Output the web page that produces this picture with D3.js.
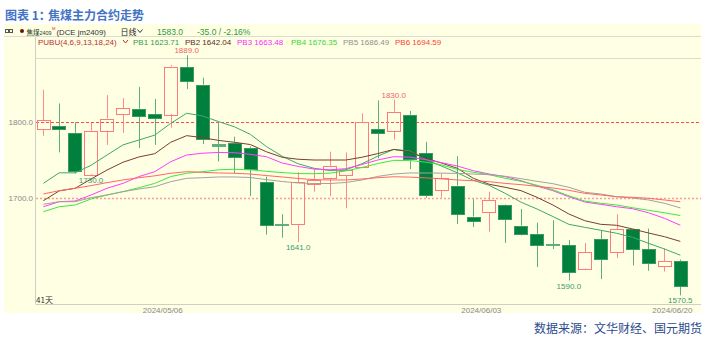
<!DOCTYPE html>
<html lang="zh">
<head>
<meta charset="UTF-8">
<script src="https://d3js.org/d3.v7.min.js"></script>
<title>焦煤主力合约走势</title>
<style>
  body { margin: 0; background: #fff; }
  text { font-family: "Liberation Sans", Arial, sans-serif; }
  .cjk { font-family: "Noto Sans CJK SC", sans-serif; }
</style>
</head>
<body>
<div id="chart"></div>
<script>
// daily bars, 41 trading days
var dates = ["2024-04-19", "2024-04-22", "2024-04-23", "2024-04-24", "2024-04-25", "2024-04-26", "2024-04-29", "2024-04-30",
  "2024-05-06", "2024-05-07", "2024-05-08", "2024-05-09", "2024-05-10", "2024-05-13", "2024-05-14", "2024-05-15",
  "2024-05-16", "2024-05-17", "2024-05-20", "2024-05-21", "2024-05-22", "2024-05-23", "2024-05-24", "2024-05-27",
  "2024-05-28", "2024-05-29", "2024-05-30", "2024-05-31", "2024-06-03", "2024-06-04", "2024-06-05", "2024-06-06",
  "2024-06-07", "2024-06-11", "2024-06-12", "2024-06-13", "2024-06-14", "2024-06-17", "2024-06-18", "2024-06-19",
  "2024-06-20"];
var opens = [1791, 1795, 1786, 1731, 1789, 1811, 1818, 1811, 1811, 1873, 1850, 1771, 1773, 1766, 1721, 1665, 1665, 1719, 1726, 1730,
  1740, 1791, 1789, 1810, 1759, 1710, 1716, 1675, 1681, 1690, 1663, 1652, 1638, 1637, 1606, 1645, 1628, 1658, 1632, 1609, 1616];
var highs = [1843, 1825, 1800, 1799, 1836, 1832, 1847, 1831, 1876, 1889, 1859, 1799, 1781, 1768, 1728, 1678, 1734, 1739, 1761, 1760,
  1812, 1829, 1830, 1815, 1774, 1732, 1755, 1698, 1708, 1691, 1685, 1667, 1670, 1644, 1640, 1657, 1678, 1659, 1659, 1633, 1618];
var lows = [1782, 1760, 1732, 1730, 1770, 1786, 1766, 1770, 1793, 1844, 1771, 1748, 1732, 1702, 1651, 1647, 1641, 1708, 1702, 1686,
  1739, 1752, 1777, 1738, 1700, 1700, 1665, 1661, 1655, 1640, 1650, 1608, 1632, 1590, 1604, 1592, 1620, 1610, 1603, 1602, 1570.5];
var closes = [1803, 1791, 1735, 1789, 1805, 1819, 1809, 1806, 1874, 1854, 1779, 1769, 1754, 1738, 1664, 1664, 1721, 1724, 1742, 1737,
  1800, 1786, 1814, 1751, 1703, 1726, 1679, 1670, 1697, 1671, 1652, 1637, 1637, 1601, 1628, 1619, 1658, 1631, 1614, 1616, 1583];

// PUBU(4,6,9,13,18,24) lines
var pb1 = [1719, 1733, 1733, 1743, 1756.6, 1770, 1776.5, 1783, 1798.6, 1812, 1808.4, 1801, 1794, 1784, 1768, 1755, 1745, 1739, 1736, 1737,
  1745, 1755, 1764, 1762, 1751, 1742, 1733, 1723, 1716.4, 1705.8, 1694, 1685, 1675, 1664.7, 1660.7, 1656.8, 1652.8, 1647.5, 1639.5, 1632, 1623.71];
var pb2 = [1696, 1709, 1712.5, 1724.8, 1736.7, 1747, 1754, 1758.4, 1773.5, 1782.3, 1779.6, 1776, 1773.5, 1770.5, 1761, 1753.6, 1751, 1750, 1750, 1750,
  1753.6, 1758.5, 1764, 1761, 1752.5, 1746, 1739, 1725.7, 1717.8, 1713.8, 1709.3, 1700.5, 1690.3, 1678.4, 1669.5, 1664.7, 1663.4, 1658.5, 1653.2, 1648.3, 1642.04];
var pb3 = [1688, 1694.7, 1695.6, 1703.6, 1712.5, 1719, 1728, 1734.5, 1747.7, 1756.6, 1759, 1760, 1759.7, 1757.5, 1754.4, 1746, 1741.5, 1738, 1737, 1738.5,
  1744, 1750, 1754.4, 1753.8, 1750.5, 1746.5, 1742, 1735.8, 1731.4, 1727.9, 1722.5, 1715.5, 1709.3, 1701.3, 1694.3, 1691.2, 1688, 1685.4, 1680, 1672.7, 1663.48];
var pb4 = [1681.4, 1688, 1690.3, 1698.3, 1703.6, 1708, 1713.3, 1719, 1728, 1732.4, 1734.5, 1737, 1737.7, 1737, 1735, 1733.3, 1732, 1731.8, 1732.6, 1735.5,
  1740, 1745.3, 1749.5, 1749.3, 1747.2, 1743.5, 1737.5, 1733.7, 1730.5, 1725.7, 1721.7, 1716.5, 1710.5, 1702.5, 1695.5, 1692.6, 1690.3, 1686.7, 1683.3, 1680, 1676.35];
var pb5 = [1691.3, 1694.7, 1694.7, 1700, 1703.6, 1708, 1711.5, 1714.6, 1721.2, 1725.7, 1726.5, 1727.5, 1727.5, 1726.8, 1724, 1721.5, 1719.5, 1718.8, 1718.8, 1720.2,
  1723.5, 1728.2, 1731.4, 1732.8, 1732.8, 1732.6, 1732.2, 1731.4, 1730.5, 1728.4, 1725.2, 1721.7, 1718.6, 1713.8, 1707.2, 1704.9, 1701.3, 1699.6, 1697, 1692.6, 1686.49];
var pb6 = [1705, 1709.3, 1712.5, 1716, 1720, 1723.5, 1726.5, 1729, 1732.4, 1734.5, 1733.7, 1732.8, 1732.4, 1731.4, 1729.4, 1727.5, 1725.5, 1724, 1723.5, 1723.5,
  1724.8, 1726.5, 1727.8, 1727.3, 1726.3, 1725, 1723.5, 1722.5, 1721.2, 1719, 1717.3, 1715.1, 1712.9, 1709.8, 1705.8, 1703.6, 1701.3, 1700.5, 1699.2, 1697, 1694.59];

var yTicks = [1700, 1800];
var dateTicks = ["2024-05-06", "2024-06-03", "2024-06-20"];
var highMarks = [9, 22];          // bars whose high is labelled
var lowMarks = [3, 16, 33, 40];   // bars whose low is labelled

var lines = [
  { name: "PB1", values: pb1, color: "#3da86c" },
  { name: "PB2", values: pb2, color: "#7b3e2c" },
  { name: "PB3", values: pb3, color: "#ff3cff" },
  { name: "PB4", values: pb4, color: "#3ee83e" },
  { name: "PB5", values: pb5, color: "#a2a29a" },
  { name: "PB6", values: pb6, color: "#ff6666" }
];
var legendColors = ["#2e9e4e", "#5a2a1e", "#ff2cff", "#36d836", "#909090", "#ff4040"];
var legendX = [133, 185, 237, 291, 343, 395];

var svg = d3.select("#chart").append("svg")
  .attr("width", 707)
  .attr("height", 343);

// title + source
svg.append("text").attr("class", "cjk")
  .attr("x", 5).attr("y", 20)
  .attr("font-size", 12).attr("font-weight", "bold").attr("fill", "#4472c4")
  .text("图表 1：");
svg.append("text").attr("class", "cjk")
  .attr("x", 48).attr("y", 20)
  .attr("font-size", 12).attr("font-weight", "bold").attr("fill", "#4472c4")
  .text("焦煤主力合约走势");
svg.append("text").attr("class", "cjk")
  .attr("x", 702).attr("y", 333)
  .attr("text-anchor", "end")
  .attr("font-size", 12).attr("fill", "#2b4c8c")
  .text("数据来源：文华财经、国元期货");

// panel
svg.append("rect")
  .attr("x", 4).attr("y", 24)
  .attr("width", 697).attr("height", 289)
  .attr("fill", "#ffffe4");

svg.append("line").attr("x1", 4).attr("x2", 701).attr("y1", 36.5).attr("y2", 36.5)
  .attr("stroke", "#dcdcd0");
svg.append("line").attr("x1", 35.5).attr("x2", 701).attr("y1", 58.5).attr("y2", 58.5)
  .attr("stroke", "#dcdcd0");
svg.append("line").attr("x1", 35.5).attr("x2", 35.5).attr("y1", 37).attr("y2", 304)
  .attr("stroke", "#cfcfc4");
svg.append("line").attr("x1", 35.5).attr("x2", 701).attr("y1", 304.5).attr("y2", 304.5)
  .attr("stroke", "#cfcfc4");

// header row
svg.append("rect").attr("x", 5.5).attr("y", 29.5).attr("width", 3).attr("height", 3)
  .attr("fill", "none").attr("stroke", "#555");
svg.append("rect").attr("x", 9.5).attr("y", 29.5).attr("width", 3).attr("height", 3)
  .attr("fill", "none").attr("stroke", "#555");
svg.append("line").attr("x1", 8.5).attr("x2", 9.5).attr("y1", 31).attr("y2", 31).attr("stroke", "#555");
svg.append("circle").attr("cx", 22).attr("cy", 31).attr("r", 2).attr("fill", "#6b1010");
svg.append("text").attr("class", "cjk").attr("x", 26.5).attr("y", 34.5)
  .attr("font-size", 6.5).attr("fill", "#1e3a1e").text("焦煤");
svg.append("text").attr("x", 39.5).attr("y", 34.5)
  .attr("font-size", 5.4).attr("fill", "#1e3a1e").text("2409");
svg.append("text").attr("x", 52).attr("y", 30)
  .attr("font-size", 4.2).attr("fill", "#e03030").text("M");
svg.append("text").attr("x", 56.5).attr("y", 34.5)
  .attr("font-family", "Liberation Mono, monospace")
  .attr("font-size", 7.8).attr("fill", "#333").text("(DCE jm2409)");
svg.append("text").attr("class", "cjk").attr("x", 120.5).attr("y", 34.5)
  .attr("font-size", 8).attr("fill", "#222").text("日线");
svg.append("path").attr("d", "M137.5,29.5 L140,32.5 L142.5,29.5")
  .attr("fill", "none").attr("stroke", "#333");
svg.append("text").attr("x", 157).attr("y", 34.5)
  .attr("font-size", 8.5).attr("fill", "#2e9a3a").text(d3.format(".1f")(closes[closes.length - 1]));
svg.append("text").attr("x", 197).attr("y", 34.5)
  .attr("font-size", 8.5).attr("fill", "#2e9a3a").text("-35.0 / -2.16%");

// legend row
svg.append("text").attr("x", 38).attr("y", 44.5)
  .attr("font-size", 8).attr("fill", "#b83030").text("PUBU(4,6,9,13,18,24)");
svg.append("path").attr("d", "M123,40 L125.5,43 L128,40")
  .attr("fill", "none").attr("stroke", "#b83030");
lines.forEach(function (s, i) {
  svg.append("text").attr("x", legendX[i]).attr("y", 44.5)
    .attr("font-size", 8).attr("fill", legendColors[i])
    .text(s.name + " " + d3.format(".2f")(s.values[s.values.length - 1]));
});

// scales
var x = d3.scaleBand()
  .domain(dates)
  .range([35.35, 688.3])
  .paddingInner(0.15)
  .paddingOuter(0.075);
var y = d3.scaleLinear()
  .domain([1700, 1800])
  .range([197.7, 122.3]);
function cx(d) { return x(d) + x.bandwidth() / 2; }

// axes
var yAxis = svg.append("g")
  .attr("transform", "translate(35,0)")
  .call(d3.axisLeft(y).tickValues(yTicks).tickSize(0).tickPadding(2).tickFormat(d3.format(".1f")));
yAxis.select(".domain").remove();
yAxis.selectAll("text").attr("font-size", 8).attr("fill", "#888").attr("font-family", "Liberation Sans, Arial, sans-serif");

var xAxis = svg.append("g")
  .attr("transform", "translate(0,304)")
  .call(d3.axisBottom(x).tickValues(dateTicks).tickSize(0).tickPadding(3)
    .tickFormat(function (d) { return d.replace(/-/g, "/"); }));
xAxis.select(".domain").remove();
xAxis.selectAll("text").attr("font-size", 8).attr("fill", "#888")
  .attr("font-family", "Liberation Sans, Arial, sans-serif")
  .attr("dx", -x.step() / 2);

// reference lines at tick values
svg.append("g").selectAll("line")
  .data(yTicks)
  .enter().append("line")
  .attr("x1", 36).attr("x2", 701)
  .attr("y1", function (d) { return Math.round(y(d)) + 0.5; })
  .attr("y2", function (d) { return Math.round(y(d)) + 0.5; })
  .attr("stroke", function (d) { return d === 1800 ? "#ff4a4a" : "#ff9a9a"; })
  .attr("stroke-width", function (d) { return d === 1800 ? 1 : 1.5; })
  .attr("stroke-dasharray", function (d) { return d === 1800 ? "3,2" : "2,2"; });

svg.append("text").attr("class", "cjk").attr("x", 36).attr("y", 302.5)
  .attr("font-size", 8).attr("fill", "#333").text(dates.length + "天");

// candles
var bars = dates.map(function (d, i) {
  return { date: d, o: opens[i], h: highs[i], l: lows[i], c: closes[i] };
});
var g = svg.append("g");
bars.forEach(function (b) {
  var up = b.c > b.o;
  var xc = Math.round(cx(b.date)) + 0.5;
  var top = y(Math.max(b.o, b.c)), bot = y(Math.min(b.o, b.c));
  var wick = up ? "#ff8a8a" : "#5fae80";
  g.append("line").attr("x1", xc).attr("x2", xc)
    .attr("y1", y(b.h)).attr("y2", top).attr("stroke", wick);
  g.append("line").attr("x1", xc).attr("x2", xc)
    .attr("y1", bot).attr("y2", y(b.l)).attr("stroke", wick);
  var h = Math.max(1, bot - top);
  g.append("rect")
    .attr("x", Math.round(x(b.date)) + 0.5)
    .attr("y", Math.round(top) + 0.5)
    .attr("width", Math.round(x.bandwidth()) - 1)
    .attr("height", Math.round(h))
    .attr("fill", up ? "none" : (h < 2 ? "#5fae80" : "#00803c"))
    .attr("stroke", up ? "#ff7a7a" : (h < 2 ? "#5fae80" : "#3a9a64"));
});

// PUBU lines
var line = d3.line()
  .x(function (d, i) { return cx(dates[i]); })
  .y(function (d) { return y(d); });
svg.append("g").selectAll("path")
  .data(lines)
  .enter().append("path")
  .attr("d", function (s) { return line(s.values); })
  .attr("fill", "none")
  .attr("stroke", function (s) { return s.color; })
  .attr("stroke-width", 1);

// high / low marks
svg.append("g").selectAll("text")
  .data(highMarks)
  .enter().append("text")
  .attr("x", function (i) { return cx(dates[i]); })
  .attr("y", function (i) { return y(highs[i]) - 2; })
  .attr("text-anchor", "middle")
  .attr("font-size", 8).attr("fill", "#f06464")
  .text(function (i) { return d3.format(".1f")(highs[i]); });
svg.append("g").selectAll("text")
  .data(lowMarks)
  .enter().append("text")
  .attr("x", function (i) { return cx(dates[i]); })
  .attr("y", function (i) { return y(lows[i]) + 8; })
  .attr("text-anchor", "middle")
  .attr("font-size", 8).attr("fill", "#3a9a6c")
  .text(function (i) { return d3.format(".1f")(lows[i]); });
</script>
</body>
</html>
